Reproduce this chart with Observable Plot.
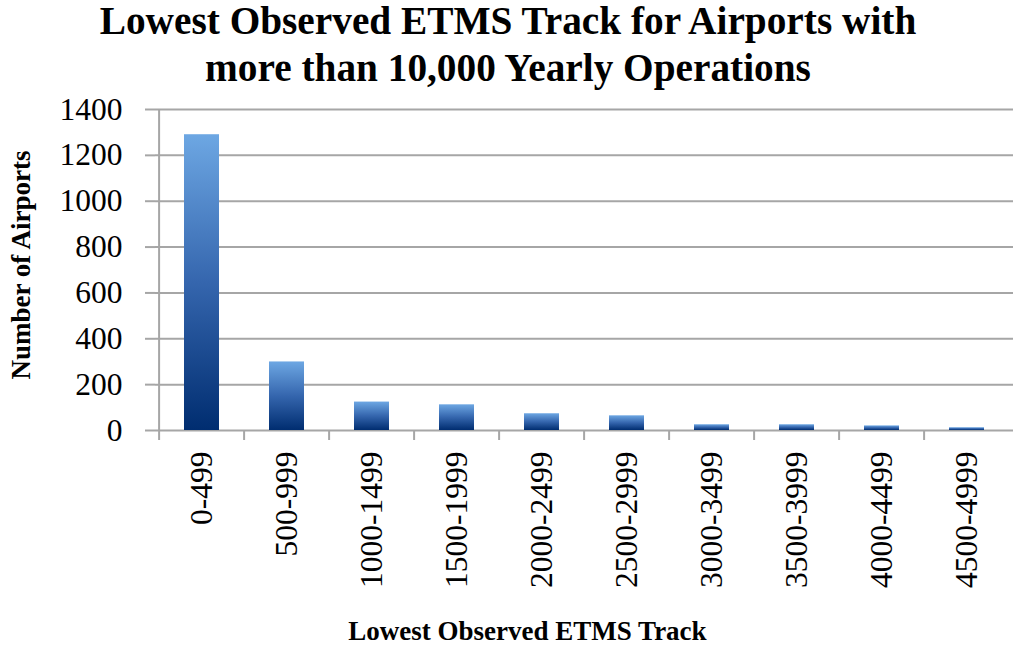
<!DOCTYPE html>
<html>
<head>
<meta charset="utf-8">
<script src="https://cdn.jsdelivr.net/npm/d3@7"></script>
<script src="https://cdn.jsdelivr.net/npm/@observablehq/plot@0.6"></script>
<style>
  html, body { margin: 0; padding: 0; background: #fff; }
  body { width: 1013px; height: 645px; overflow: hidden; font-family: "Liberation Serif", serif; }
  #title { height: 90px; box-sizing: border-box; position: relative; top: -2px; margin-bottom: -2px;
           padding-left: 3px; text-align: center;
           font-weight: bold; font-size: 39.3px; line-height: 47px; color: #000; white-space: nowrap; }
  #xlabel { height: 30px; box-sizing: border-box; padding-top: 5px; text-align: center; padding-left: 42px;
            font-weight: bold; font-size: 27px; line-height: 27px; color: #000; white-space: nowrap; }
  svg { display: block; }
  #chart svg text { font-family: "Liberation Serif", serif !important; }
</style>
</head>
<body>
<div id="title">Lowest Observed ETMS Track for Airports with<br>more than 10,000 Yearly Operations</div>
<div id="chart"></div>
<div id="xlabel">Lowest Observed ETMS Track</div>
<script>
const categories = ["0-499","500-999","1000-1499","1500-1999","2000-2499","2500-2999","3000-3499","3500-3999","4000-4499","4500-4999"];
const counts = [1290, 299, 124, 112, 73, 64, 25, 25, 20, 12];
const yTicks = [0, 200, 400, 600, 800, 1000, 1200, 1400];
const yLabel = "Number of Airports";
const data = categories.map((c, i) => ({range: c, count: counts[i]}));

const W = 1013, H = 525;
const mL = 155, mR = 0, mT = 21, mB = 183;
const step = (W - mL - mR) / categories.length;
const grid = "#a6a6a6";
const serif = "'Liberation Serif', serif";

const chart = Plot.plot({
  width: W, height: H,
  marginLeft: mL, marginRight: mR, marginTop: mT, marginBottom: mB,
  style: {fontFamily: serif, fontSize: "31px", color: "#000", background: "#fff"},
  x: {domain: categories, padding: 0, label: null},
  y: {domain: [0, 1400], label: null},
  marks: [
    Plot.ruleY(yTicks, {stroke: grid, strokeWidth: 2}),
    Plot.ruleX([categories[0]], {x: d => d, y1: 0, y2: 1400, dx: -step / 2, stroke: grid, strokeWidth: 2}),
    Plot.ruleX(categories, {x: d => d, y1: 0, y2: 0, dx: -step / 2, insetTop: 10, stroke: grid, strokeWidth: 2}),
    Plot.barY(data, {x: "range", y: "count", fill: "url(#barGrad)", insetLeft: 25, insetRight: 25}),
    Plot.axisY({ticks: yTicks, tickFormat: d => String(d), tickSize: 10, tickPadding: 23, stroke: grid, strokeWidth: 2,
                fill: "#000", fontSize: 31.5, fontFamily: serif, label: null}),
    Plot.axisX({tickSize: 0, tickPadding: 21, tickRotate: -90, fill: "#000", fontSize: 31.5, fontFamily: serif, label: null}),
    Plot.text([yLabel], {frameAnchor: "left", dx: -134, dy: -5, rotate: -90, textAnchor: "middle",
                         fontWeight: "bold", fontSize: 27, fontFamily: serif, fill: "#000"})
  ]
});

const defs = d3.select(chart).insert("defs", ":first-child");
const g = defs.append("linearGradient").attr("id", "barGrad").attr("x1", 0).attr("y1", 0).attr("x2", 0).attr("y2", 1);
g.append("stop").attr("offset", "0%").attr("stop-color", "#6da7e3");
g.append("stop").attr("offset", "50%").attr("stop-color", "#3566ae");
g.append("stop").attr("offset", "100%").attr("stop-color", "#002d70");

document.getElementById("chart").appendChild(chart);
</script>
</body>
</html>
